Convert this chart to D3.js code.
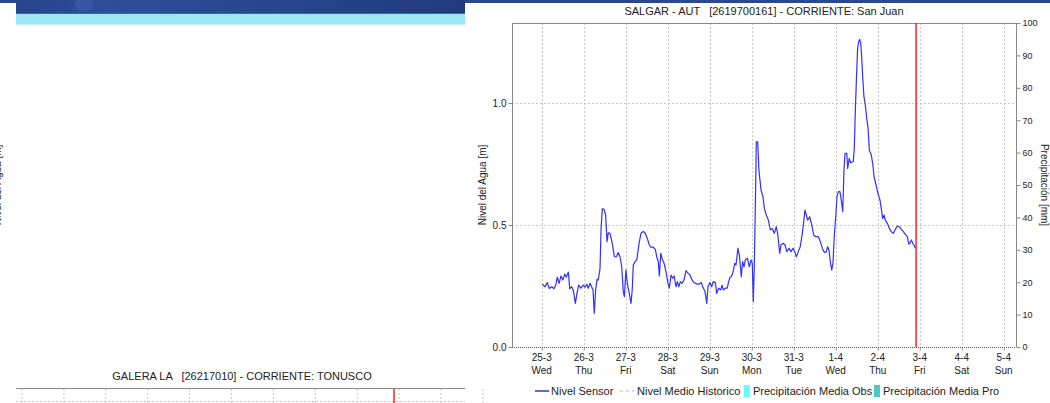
<!DOCTYPE html>
<html><head><meta charset="utf-8">
<script src="https://cdn.jsdelivr.net/npm/d3@7"></script>
<style>
html,body{margin:0;padding:0;background:#fff;overflow:hidden;}
svg{display:block;font-family:"Liberation Sans",Arial,sans-serif;}
text{white-space:pre;}
</style></head>
<body>
<svg id="c" width="1050" height="403"></svg>
<script>
// ---- data (hours since 25-3 00:00 UTC, water level in m) ----
const hours = [0.3,1.9,3.2,4.3,5.7,7.0,8.0,8.9,9.9,11.0,12.1,13.1,14.0,15.2,16.0,17.1,18.0,19.2,20.1,21.1,22.4,23.7,24.7,25.7,26.6,27.6,28.5,29.3,30.0,30.8,31.6,32.3,33.3,33.9,34.6,35.6,36.5,37.3,38.0,39.0,40.3,41.5,42.6,43.7,44.7,45.7,46.6,47.2,48.1,48.9,50.0,51.0,51.7,52.3,53.3,54.3,55.6,56.7,58.0,59.0,60.3,61.5,62.3,63.7,64.9,65.7,66.6,67.2,68.0,68.7,69.9,71.0,72.1,72.9,73.9,74.8,75.7,76.7,77.5,78.3,79.2,80.1,81.3,82.4,83.7,84.7,85.9,87.0,88.5,90.0,91.2,92.0,93.3,94.3,95.0,96.1,97.1,98.0,99.2,100.0,101.1,102.3,103.0,103.7,104.9,106.0,106.8,107.6,108.3,109.1,110.3,111.0,112.1,112.9,113.7,114.0,114.8,115.6,116.3,117.5,118.6,119.6,120.3,120.9,121.5,122.3,122.6,123.4,124.1,125.3,126.4,127.2,128.3,129.5,130.6,131.7,132.9,134.0,134.8,136.0,136.7,137.9,139.0,140.1,141.3,142.4,143.6,144.7,145.5,146.6,147.7,148.9,149.7,150.4,151.2,152.0,153.1,154.3,155.4,156.5,158.0,159.2,160.3,161.5,162.6,163.4,164.1,164.9,165.7,166.4,167.2,168.0,168.7,169.5,170.4,171.4,172.0,172.7,173.3,174.3,174.8,175.7,176.5,178.0,178.6,179.2,180.0,180.5,181.1,181.7,182.3,182.8,183.4,184.1,184.9,185.7,186.4,187.2,188.3,189.1,189.9,191.0,192.1,193.3,194.0,194.8,195.6,196.3,197.5,198.6,199.7,200.9,202.0,203.2,204.3,205.5,206.6,207.7,208.9,209.7,210.4,211.2,212.0,212.7,213.5];
const nivelSensor = [0.257,0.247,0.264,0.240,0.247,0.239,0.254,0.286,0.261,0.291,0.275,0.299,0.286,0.307,0.239,0.247,0.234,0.179,0.220,0.254,0.241,0.254,0.245,0.257,0.241,0.261,0.247,0.234,0.138,0.234,0.277,0.275,0.322,0.486,0.566,0.564,0.541,0.432,0.468,0.466,0.425,0.370,0.370,0.387,0.370,0.329,0.227,0.206,0.316,0.261,0.220,0.179,0.234,0.336,0.350,0.357,0.425,0.466,0.473,0.468,0.445,0.418,0.409,0.409,0.400,0.370,0.350,0.291,0.384,0.364,0.343,0.309,0.261,0.241,0.295,0.282,0.291,0.247,0.268,0.247,0.268,0.261,0.275,0.313,0.302,0.295,0.275,0.264,0.258,0.258,0.264,0.247,0.227,0.179,0.247,0.264,0.247,0.268,0.264,0.220,0.241,0.234,0.254,0.234,0.241,0.241,0.268,0.286,0.288,0.302,0.343,0.336,0.405,0.377,0.316,0.288,0.350,0.329,0.357,0.364,0.329,0.357,0.343,0.186,0.350,0.684,0.841,0.841,0.725,0.643,0.616,0.568,0.541,0.520,0.480,0.486,0.466,0.493,0.466,0.384,0.418,0.425,0.418,0.391,0.405,0.391,0.405,0.387,0.370,0.391,0.411,0.466,0.514,0.561,0.541,0.520,0.534,0.500,0.459,0.452,0.452,0.432,0.405,0.387,0.391,0.411,0.398,0.350,0.315,0.343,0.459,0.534,0.616,0.637,0.637,0.589,0.555,0.725,0.794,0.794,0.732,0.773,0.755,0.760,0.814,0.971,1.135,1.224,1.251,1.261,1.244,1.190,1.108,1.026,0.992,0.937,0.903,0.807,0.787,0.753,0.698,0.664,0.630,0.602,0.568,0.527,0.541,0.520,0.507,0.486,0.473,0.466,0.482,0.496,0.493,0.482,0.473,0.463,0.452,0.422,0.425,0.439,0.425,0.418,0.405];
const levelTicks = [0.0, 0.5, 1.0];
const precipTicks = [0,10,20,30,40,50,60,70,80,90,100];
const legendLabels = ["Nivel Sensor","Nivel Medio Historico","Precipitación Media Obs","Precipitación Media Pro"];
const chartTitle = "SALGAR - AUT   [2619700161] - CORRIENTE: San Juan";
const otherTitle = "GALERA LA   [26217010] - CORRIENTE: TONUSCO";
const nowHours = 213.9;

const base = Date.UTC(2026,2,25,0);
const toDate = h => new Date(base + h*3600e3);
const data = hours.map((h,i)=>({t:toDate(h), v:nivelSensor[i]}));

const svg = d3.select("#c");
const L=512, R=1016, T=23, B=347;

// ---- page decorations (left panel banner) ----
const defs = svg.append("defs");
const g1 = defs.append("linearGradient").attr("id","ban").attr("x1",0).attr("x2",1).attr("y1",0).attr("y2",0);
g1.append("stop").attr("offset","0").attr("stop-color","#28448c");
g1.append("stop").attr("offset","0.2").attr("stop-color","#2d4e99");
g1.append("stop").attr("offset","0.5").attr("stop-color","#284890");
g1.append("stop").attr("offset","1").attr("stop-color","#223a7c");
svg.append("rect").attr("x",0).attr("y",0).attr("width",1050).attr("height",3).attr("fill","#2a4790");
svg.append("rect").attr("x",16).attr("y",0).attr("width",449).attr("height",14).attr("fill","url(#ban)");
svg.append("ellipse").attr("cx",84).attr("cy",4).attr("rx",9).attr("ry",8).attr("fill","#3a5cab").attr("opacity",0.7);
svg.append("rect").attr("x",16).attr("y",13).attr("width",449).attr("height",1).attr("fill","#3a66a8");
svg.append("rect").attr("x",16).attr("y",14).attr("width",449).attr("height",11).attr("fill","#9be8f2");
svg.append("rect").attr("x",16).attr("y",24).attr("width",449).attr("height",1).attr("fill","#c4f2f7");

// left axis label of neighbouring chart (mostly outside the window, as in the page)
svg.append("text").attr("transform","translate(1,185) rotate(-90)").attr("text-anchor","middle")
  .attr("font-size",10).attr("fill","#222").text("Nivel del Agua [m]");

// neighbouring chart (bottom-left)
svg.append("text").attr("x",242).attr("y",380).attr("text-anchor","middle").attr("font-size",11).attr("fill","#222").text(otherTitle);
const days2 = d3.utcDay.range(Date.UTC(2026,2,25), Date.UTC(2026,3,5,1));
svg.append("g").selectAll("line").data(days2).join("line")
  .attr("x1",(d,i)=>22+i*41.9).attr("x2",(d,i)=>22+i*41.9).attr("y1",389).attr("y2",403)
  .attr("stroke","#c8c8c8").attr("stroke-dasharray","2,2");
svg.append("line").attr("x1",16).attr("x2",465).attr("y1",401.5).attr("y2",401.5).attr("stroke","#c8c8c8").attr("stroke-dasharray","2,2");
svg.append("line").attr("x1",16).attr("x2",465).attr("y1",388.5).attr("y2",388.5).attr("stroke","#888");
svg.append("line").attr("x1",394).attr("x2",394).attr("y1",389).attr("y2",403).attr("stroke","#ff0000").attr("stroke-width",1.3);

// ---- main chart ----
const x = d3.scaleUtc().domain([Date.UTC(2026,2,24,7), Date.UTC(2026,3,5,7)]).range([L,R]);
const y = d3.scaleLinear().domain([0,1.328]).range([B,T]);
const yR = d3.scaleLinear().domain([0,100]).range([B,T]);
const days = d3.utcDay.range(Date.UTC(2026,2,25), Date.UTC(2026,3,5,1));

// gridlines
svg.append("g").selectAll("line").data(days).join("line")
  .attr("x1",d=>Math.round(x(d))+0.5).attr("x2",d=>Math.round(x(d))+0.5).attr("y1",T).attr("y2",B)
  .attr("stroke","#c8c8c8").attr("stroke-dasharray","2,2");
svg.append("g").selectAll("line").data(levelTicks.filter(d=>d>0)).join("line")
  .attr("x1",L).attr("x2",R).attr("y1",d=>Math.round(y(d))+0.5).attr("y2",d=>Math.round(y(d))+0.5)
  .attr("stroke","#c8c8c8").attr("stroke-dasharray","2,2");

// frame
svg.append("line").attr("x1",L+0.5).attr("x2",L+0.5).attr("y1",T).attr("y2",B).attr("stroke","#888");
svg.append("line").attr("x1",R+0.5).attr("x2",R+0.5).attr("y1",T).attr("y2",B).attr("stroke","#888");
svg.append("line").attr("x1",L).attr("x2",R).attr("y1",T+0.5).attr("y2",T+0.5).attr("stroke","#888");
svg.append("line").attr("x1",L).attr("x2",R).attr("y1",B+0.5).attr("y2",B+0.5).attr("stroke","#555").attr("stroke-dasharray","1,1");

// left axis
const gl = svg.append("g").attr("transform",`translate(${L+0.5},0)`)
  .call(d3.axisLeft(y).tickValues(levelTicks).tickFormat(d3.format(".1f")).tickSize(4).tickPadding(2));
gl.select(".domain").remove();
gl.selectAll("line").attr("stroke","#888");
gl.selectAll("text").attr("font-size",10).attr("fill","#222").attr("font-family","Liberation Sans, Arial, sans-serif");

// right axis
const gr = svg.append("g").attr("transform",`translate(${R+0.5},0)`)
  .call(d3.axisRight(yR).tickValues(precipTicks).tickSize(4).tickPadding(2));
gr.select(".domain").remove();
gr.selectAll("line").attr("stroke","#888");
gr.selectAll("text").attr("font-size",9).attr("fill","#222").attr("font-family","Liberation Sans, Arial, sans-serif");

// bottom axis
const gb = svg.append("g").attr("transform",`translate(0,${B+0.5})`)
  .call(d3.axisBottom(x).tickValues(days).tickSize(3).tickFormat(""));
gb.select(".domain").remove();
gb.selectAll("line").attr("stroke","#888");
const fD = d3.utcFormat("%-d-%-m"), fW = d3.utcFormat("%a");
const lab = svg.append("g").selectAll("text").data(days).join("text")
  .attr("x",d=>x(d)).attr("text-anchor","middle").attr("font-size",10).attr("fill","#222");
lab.append("tspan").attr("x",d=>x(d)).attr("y",361).text(d=>fD(d));
lab.append("tspan").attr("x",d=>x(d)).attr("y",374).text(d=>fW(d));

// axis titles
svg.append("text").attr("transform","translate(486,185) rotate(-90)").attr("text-anchor","middle")
  .attr("font-size",10).attr("fill","#222").text("Nivel del Agua [m]");
svg.append("text").attr("transform","translate(1041,185) rotate(90)").attr("text-anchor","middle")
  .attr("font-size",10).attr("fill","#222").text("Precipitación [mm]");

// title
svg.append("text").attr("x",(L+R)/2).attr("y",15).attr("text-anchor","middle").attr("font-size",11).attr("fill","#222").text(chartTitle);

// data line
defs.append("clipPath").attr("id","plot").append("rect").attr("x",L).attr("y",T).attr("width",R-L).attr("height",B-T);
svg.append("path").datum(data).attr("clip-path","url(#plot)")
  .attr("d",d3.line().x(d=>x(d.t)).y(d=>y(d.v)))
  .attr("fill","none").attr("stroke","#3030ff").attr("stroke-width",1.2).attr("stroke-linejoin","round");

// now line
const xn = x(toDate(nowHours));
svg.append("line").attr("x1",xn).attr("x2",xn).attr("y1",T).attr("y2",B).attr("stroke","#ff0000").attr("stroke-width",1.3);

// legend
const ly = 395;
const lg = svg.append("g").attr("font-size",11).attr("fill","#222");
lg.append("line").attr("x1",535).attr("x2",549).attr("y1",ly-4).attr("y2",ly-4).attr("stroke","#0000cc").attr("stroke-width",1.2);
lg.append("text").attr("x",551).attr("y",ly).text(legendLabels[0]);
lg.append("line").attr("x1",620).attr("x2",634).attr("y1",ly-4).attr("y2",ly-4).attr("stroke","#bbb").attr("stroke-dasharray","3,3");
lg.append("text").attr("x",637).attr("y",ly).text(legendLabels[1]);
lg.append("rect").attr("x",744).attr("y",ly-10).attr("width",6).attr("height",12).attr("fill","#66ffff");
lg.append("text").attr("x",753).attr("y",ly).text(legendLabels[2]);
lg.append("rect").attr("x",874).attr("y",ly-10).attr("width",6).attr("height",12).attr("fill","#4cc8c0");
lg.append("text").attr("x",883).attr("y",ly).text(legendLabels[3]);
</script>
</body></html>
